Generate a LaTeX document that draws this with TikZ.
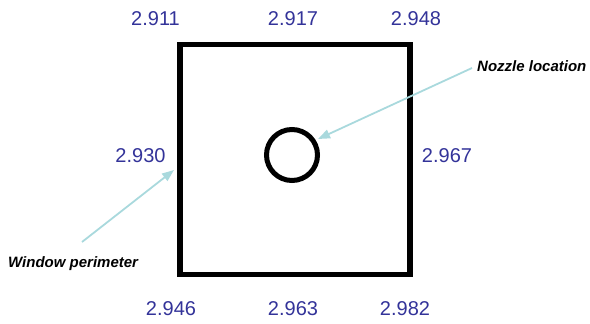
\documentclass[tikz,border=0pt]{standalone}
\usepackage{fontspec}
\setmainfont{Liberation Sans}
\usetikzlibrary{arrows.meta}
\definecolor{numblue}{HTML}{333399}
\definecolor{teal}{HTML}{A9D9DD}
\tikzset{
  num/.style={text=numblue, inner sep=0pt, font=\fontsize{20}{24}\selectfont},
  lbl/.style={inner sep=0pt, font=\fontsize{15}{18}\selectfont\bfseries\itshape},
  pointer/.style={draw=teal, line width=1.8pt, -{Triangle[length=12pt,width=9pt]}},
}
\begin{document}
\begin{tikzpicture}[x=1pt,y=-1pt]
\useasboundingbox (0,0) rectangle (590,324);
\node[draw, line width=5.5pt, minimum size=230pt, inner sep=0pt] (win) at (295,159.5) {};
\node[draw, circle, line width=5pt, minimum size=51pt, inner sep=0pt] (noz) at (292,155) {};
\node[num] (n1) at (155.5,19) {2.911};
\node[num] (n2) at (293,19) {2.917};
\node[num] (n3) at (416,19) {2.948};
\node[num] (n4) at (140.5,156) {2.930};
\node[num] (n5) at (447,156) {2.967};
\node[num] (n6) at (171,309) {2.946};
\node[num] (n7) at (293,309) {2.963};
\node[num] (n8) at (405,309) {2.982};
\node[lbl, anchor=base west] (lnoz) at (477,71) {Nozzle location};
\node[lbl, anchor=base west] (lwin) at (8,267) {Window perimeter};
\coordinate (a1) at (472,68);
\coordinate (t1) at (318,139);
\coordinate (a2) at (82,242);
\coordinate (t2) at (174,170);
\draw[pointer] (a1) -- (t1);
\draw[pointer] (a2) -- (t2);
\end{tikzpicture}
\end{document}
